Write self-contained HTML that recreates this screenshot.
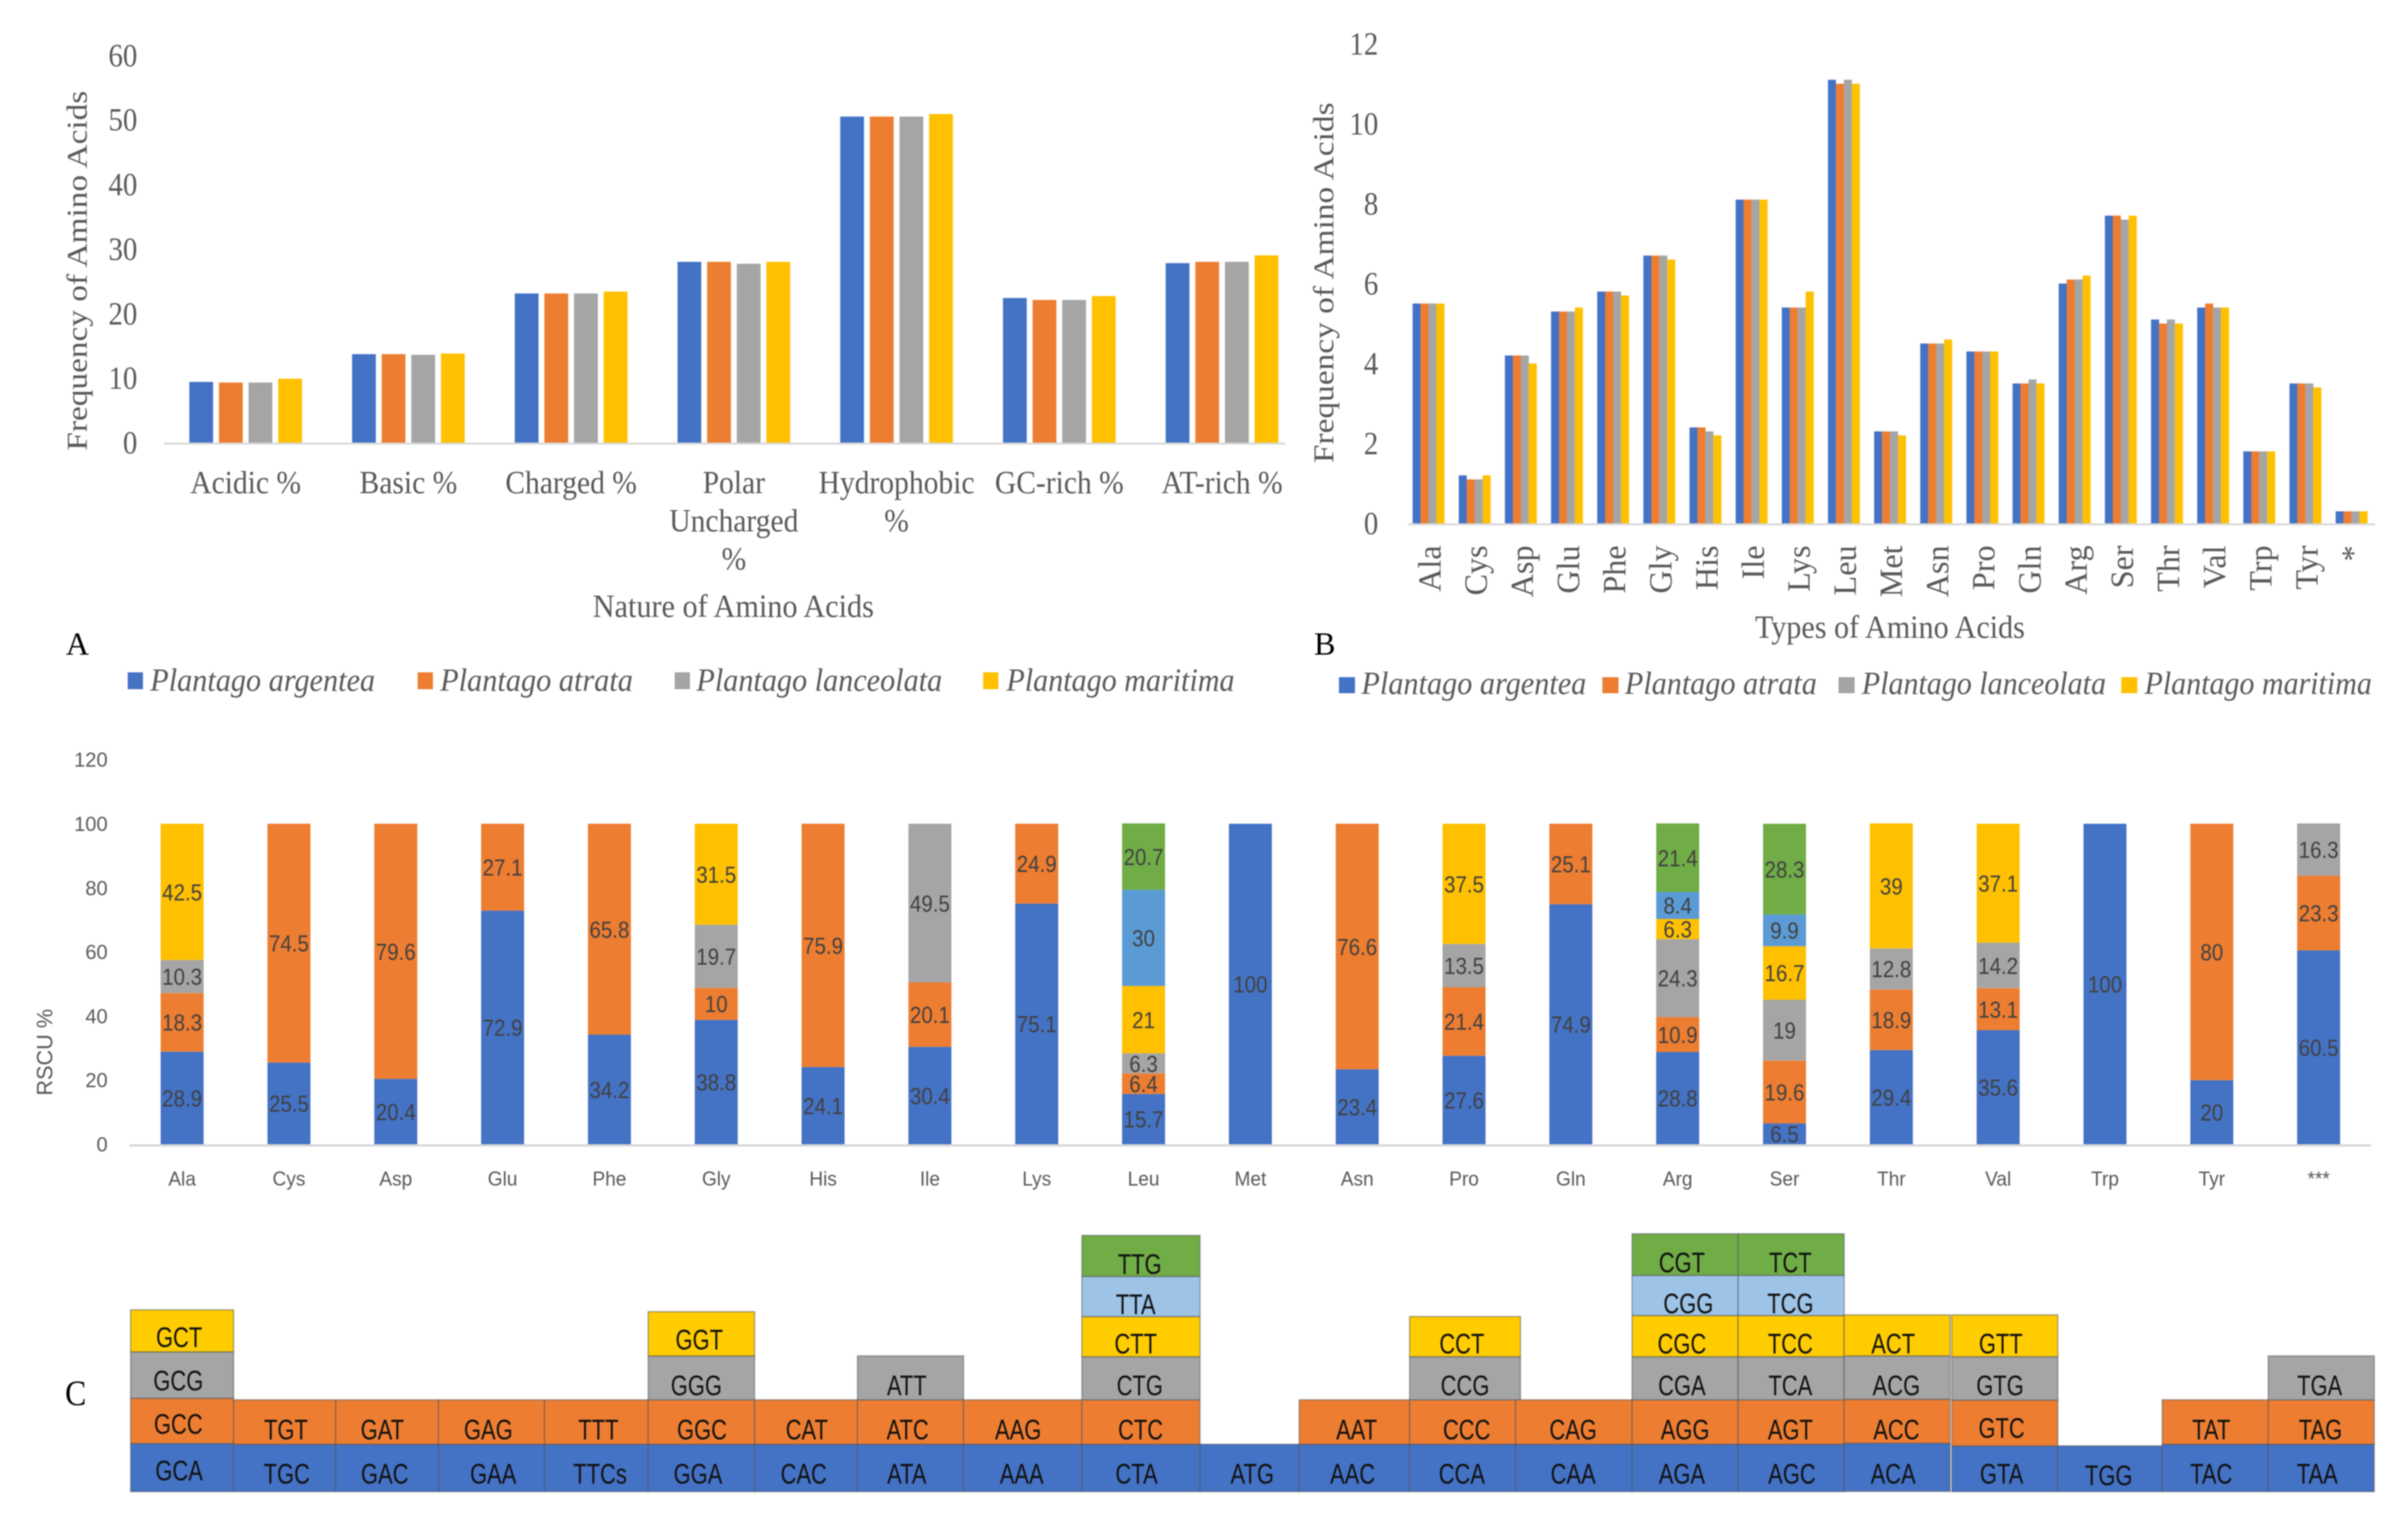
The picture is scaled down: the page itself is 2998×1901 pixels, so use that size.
<!DOCTYPE html>
<html lang="en">
<head>
<meta charset="utf-8">
<title>Plantago amino acid composition and RSCU</title>
<style>
html,body{margin:0;padding:0;background:#fff;width:2998px;height:1901px;overflow:hidden}
svg{display:block;filter:blur(.7px)}
.codon rect{stroke:#56585c;stroke-opacity:.55;stroke-width:1.5}
.codon text{font-family:"Liberation Sans",sans-serif;font-size:35px;fill:#111;text-anchor:middle}
.b{fill:#4472c4}.o{fill:#ed7d31}.g{fill:#a5a5a5}.y{fill:#ffcc00}.l{fill:#9dc3e6}.n{fill:#70ad47}
</style>
</head>
<body>
<svg id="figure" xmlns="http://www.w3.org/2000/svg" width="2998" height="1901" viewBox="0 0 2998 1901">
<rect x="0" y="0" width="2998" height="1901" fill="#fff"/>
<g id="chart-a"></g>
<g id="chart-b"></g>
<g id="chart-c"></g>

<text transform="translate(81,1749) scale(.9,1)" font-family="Liberation Serif" font-size="44" fill="#000">C</text>

<g class="codon">
<g>
<rect class="b" x="162.6" y="1797" width="128.2" height="60"/><text transform="translate(223,1843) scale(.78,1)">GCA</text>
<rect class="o" x="162.6" y="1740.7" width="128.2" height="56.3"/><text transform="translate(222,1785) scale(.78,1)">GCC</text>
<rect class="g" x="162.6" y="1683" width="128.2" height="57.7"/><text transform="translate(222,1731) scale(.78,1)">GCG</text>
<rect class="y" x="162.6" y="1630.7" width="128.2" height="52.3"/><text transform="translate(223,1677) scale(.78,1)">GCT</text>
</g>
<g>
<rect class="b" x="290.8" y="1798" width="127.2" height="59"/><text transform="translate(357,1847) scale(.78,1)">TGC</text>
<rect class="o" x="290.8" y="1742.7" width="127.2" height="55.3"/><text transform="translate(356,1792) scale(.78,1)">TGT</text>
</g>
<g>
<rect class="b" x="418" y="1798" width="128" height="59"/><text transform="translate(479,1847) scale(.78,1)">GAC</text>
<rect class="o" x="418" y="1742.7" width="128" height="55.3"/><text transform="translate(476,1792) scale(.78,1)">GAT</text>
</g>
<g>
<rect class="b" x="546" y="1798" width="132" height="59"/><text transform="translate(614,1847) scale(.78,1)">GAA</text>
<rect class="o" x="546" y="1742.7" width="132" height="55.3"/><text transform="translate(608,1792) scale(.78,1)">GAG</text>
</g>
<g>
<rect class="b" x="678" y="1798" width="129" height="59"/><text transform="translate(747,1847) scale(.78,1)">TTCs</text>
<rect class="o" x="678" y="1742.7" width="129" height="55.3"/><text transform="translate(745,1792) scale(.78,1)">TTT</text>
</g>
<g>
<rect class="b" x="807" y="1798" width="132.5" height="59"/><text transform="translate(869,1847) scale(.78,1)">GGA</text>
<rect class="o" x="807" y="1742.7" width="132.5" height="55.3"/><text transform="translate(874,1792) scale(.78,1)">GGC</text>
<rect class="g" x="807" y="1688" width="132.5" height="54.7"/><text transform="translate(867,1737) scale(.78,1)">GGG</text>
<rect class="y" x="807" y="1633" width="132.5" height="55"/><text transform="translate(870.6,1680) scale(.78,1)">GGT</text>
</g>
<g>
<rect class="b" x="939.5" y="1798" width="128.1" height="59"/><text transform="translate(1000.7,1847) scale(.78,1)">CAC</text>
<rect class="o" x="939.5" y="1742.7" width="128.1" height="55.3"/><text transform="translate(1004.5,1792) scale(.78,1)">CAT</text>
</g>
<g>
<rect class="b" x="1067.6" y="1798" width="132" height="59"/><text transform="translate(1129,1847) scale(.78,1)">ATA</text>
<rect class="o" x="1067.6" y="1742.7" width="132" height="55.3"/><text transform="translate(1130,1792) scale(.78,1)">ATC</text>
<rect class="g" x="1067.6" y="1688" width="132" height="54.7"/><text transform="translate(1129,1737) scale(.78,1)">ATT</text>
</g>
<g>
<rect class="b" x="1199.6" y="1798" width="147.4" height="59"/><text transform="translate(1272,1847) scale(.78,1)">AAA</text>
<rect class="o" x="1199.6" y="1742.7" width="147.4" height="55.3"/><text transform="translate(1267.6,1792) scale(.78,1)">AAG</text>
</g>
<g>
<rect class="b" x="1347" y="1798" width="147" height="59"/><text transform="translate(1415,1847) scale(.78,1)">CTA</text>
<rect class="o" x="1347" y="1742.7" width="147" height="55.3"/><text transform="translate(1420,1792) scale(.78,1)">CTC</text>
<rect class="g" x="1347" y="1689" width="147" height="53.7"/><text transform="translate(1419,1737) scale(.78,1)">CTG</text>
<rect class="y" x="1347" y="1639" width="147" height="50"/><text transform="translate(1414,1685) scale(.78,1)">CTT</text>
<rect class="l" x="1347" y="1589" width="147" height="50"/><text transform="translate(1414,1636) scale(.78,1)">TTA</text>
<rect class="n" x="1347" y="1538" width="147" height="51"/><text transform="translate(1419,1586) scale(.78,1)">TTG</text>
</g>
<g>
<rect class="b" x="1494" y="1798" width="123.5" height="59"/><text transform="translate(1559,1847) scale(.78,1)">ATG</text>
</g>
<g>
<rect class="b" x="1617.5" y="1798" width="137.5" height="59"/><text transform="translate(1684,1847) scale(.78,1)">AAC</text>
<rect class="o" x="1617.5" y="1742.7" width="137.5" height="55.3"/><text transform="translate(1689,1792) scale(.78,1)">AAT</text>
</g>
<g>
<rect class="b" x="1755" y="1798" width="132" height="59"/><text transform="translate(1820,1847) scale(.78,1)">CCA</text>
<rect class="o" x="1755" y="1742.7" width="132" height="55.3"/><text transform="translate(1826,1792) scale(.78,1)">CCC</text>
<rect class="g" x="1755" y="1689" width="138" height="53.7"/><text transform="translate(1824,1737) scale(.78,1)">CCG</text>
<rect class="y" x="1755" y="1639" width="138" height="50"/><text transform="translate(1820,1685) scale(.78,1)">CCT</text>
</g>
<g>
<rect class="b" x="1887" y="1798" width="145" height="59"/><text transform="translate(1958.6,1847) scale(.78,1)">CAA</text>
<rect class="o" x="1887" y="1742.7" width="145" height="55.3"/><text transform="translate(1958.6,1792) scale(.78,1)">CAG</text>
</g>
<g>
<rect class="b" x="2032" y="1798" width="132" height="59"/><text transform="translate(2094,1847) scale(.78,1)">AGA</text>
<rect class="o" x="2032" y="1742.7" width="132" height="55.3"/><text transform="translate(2098,1792) scale(.78,1)">AGG</text>
<rect class="g" x="2032" y="1689" width="132" height="53.7"/><text transform="translate(2094,1737) scale(.78,1)">CGA</text>
<rect class="y" x="2032" y="1637.7" width="132" height="51.3"/><text transform="translate(2094,1685) scale(.78,1)">CGC</text>
<rect class="l" x="2032" y="1587.7" width="132" height="50"/><text transform="translate(2102,1635) scale(.78,1)">CGG</text>
<rect class="n" x="2032" y="1536" width="132" height="51.7"/><text transform="translate(2094,1584) scale(.78,1)">CGT</text>
</g>
<g>
<rect class="b" x="2164" y="1798" width="132" height="59"/><text transform="translate(2231,1847) scale(.78,1)">AGC</text>
<rect class="o" x="2164" y="1742.7" width="132" height="55.3"/><text transform="translate(2229,1792) scale(.78,1)">AGT</text>
<rect class="g" x="2164" y="1689" width="132" height="53.7"/><text transform="translate(2229,1737) scale(.78,1)">TCA</text>
<rect class="y" x="2164" y="1637.7" width="132" height="51.3"/><text transform="translate(2229,1685) scale(.78,1)">TCC</text>
<rect class="l" x="2164" y="1587.7" width="132" height="50"/><text transform="translate(2229,1635) scale(.78,1)">TCG</text>
<rect class="n" x="2164" y="1536" width="132" height="51.7"/><text transform="translate(2229,1584) scale(.78,1)">TCT</text>
</g>
<g>
<rect class="b" x="2296" y="1796.7" width="132" height="60"/><text transform="translate(2357,1847) scale(.78,1)">ACA</text>
<rect class="o" x="2296" y="1742" width="132" height="54.7"/><text transform="translate(2361,1792) scale(.78,1)">ACC</text>
<rect class="g" x="2296" y="1688" width="132" height="54"/><text transform="translate(2361,1737) scale(.78,1)">ACG</text>
<rect class="y" x="2296" y="1637" width="132" height="51"/><text transform="translate(2357,1685) scale(.78,1)">ACT</text>
</g>
<g>
<rect class="b" x="2430" y="1800" width="132" height="57"/><text transform="translate(2492,1847) scale(.78,1)">GTA</text>
<rect class="o" x="2430" y="1743" width="132" height="57"/><text transform="translate(2492,1790) scale(.78,1)">GTC</text>
<rect class="g" x="2430" y="1689" width="132" height="54"/><text transform="translate(2490,1737) scale(.78,1)">GTG</text>
<rect class="y" x="2430" y="1637" width="132" height="52"/><text transform="translate(2491,1685) scale(.78,1)">GTT</text>
</g>
<g>
<rect class="b" x="2562" y="1800" width="130" height="57"/><text transform="translate(2625.4,1849) scale(.78,1)">TGG</text>
</g>
<g>
<rect class="b" x="2692" y="1798" width="132" height="59"/><text transform="translate(2753,1847) scale(.78,1)">TAC</text>
<rect class="o" x="2692" y="1742.7" width="132" height="55.3"/><text transform="translate(2753,1792) scale(.78,1)">TAT</text>
</g>
<g>
<rect class="b" x="2824" y="1798" width="132" height="59"/><text transform="translate(2885,1847) scale(.78,1)">TAA</text>
<rect class="o" x="2824" y="1742.7" width="132" height="55.3"/><text transform="translate(2889,1792) scale(.78,1)">TAG</text>
<rect class="g" x="2824" y="1688" width="132" height="54.7"/><text transform="translate(2888,1737) scale(.78,1)">TGA</text>
</g>
</g>
</svg>

<script>
// ---------- Chart A data ----------
const natureCategories = [["Acidic %"],["Basic %"],["Charged %"],["Polar","Uncharged","%"],["Hydrophobic","%"],["GC-rich %"],["AT-rich %"]];
const natureTicks = [0,10,20,30,40,50,60];
const natureArgentea = [9.4,13.7,23.1,28,50.5,22.4,27.8];
const natureAtrata = [9.3,13.7,23.1,28,50.5,22.1,28];
const natureLanceolata = [9.3,13.6,23.1,27.7,50.5,22.1,28];
const natureMaritima = [9.9,13.8,23.4,28,50.9,22.7,29];

// ---------- Chart B data ----------
const typeCategories = ["Ala","Cys","Asp","Glu","Phe","Gly","His","Ile","Lys","Leu","Met","Asn","Pro","Gln","Arg","Ser","Thr","Val","Trp","Tyr","*"];
const typeTicks = [0,2,4,6,8,10,12];
const typeArgentea = [5.5,1.2,4.2,5.3,5.8,6.7,2.4,8.1,5.4,11.1,2.3,4.5,4.3,3.5,6,7.7,5.1,5.4,1.8,3.5,0.3];
const typeAtrata = [5.5,1.1,4.2,5.3,5.8,6.7,2.4,8.1,5.4,11,2.3,4.5,4.3,3.5,6.1,7.7,5,5.5,1.8,3.5,0.3];
const typeLanceolata = [5.5,1.1,4.2,5.3,5.8,6.7,2.3,8.1,5.4,11.1,2.3,4.5,4.3,3.6,6.1,7.6,5.1,5.4,1.8,3.5,0.3];
const typeMaritima = [5.5,1.2,4,5.4,5.7,6.6,2.2,8.1,5.8,11,2.2,4.6,4.3,3.5,6.2,7.7,5,5.4,1.8,3.4,0.3];

// ---------- Chart C data ----------
const rscuCategories = ["Ala","Cys","Asp","Glu","Phe","Gly","His","Ile","Lys","Leu","Met","Asn","Pro","Gln","Arg","Ser","Thr","Val","Trp","Tyr","***"];
const rscuTicks = [0,20,40,60,80,100,120];
const rscuFirst = [28.9,25.5,20.4,72.9,34.2,38.8,24.1,30.4,75.1,15.7,100,23.4,27.6,74.9,28.8,6.5,29.4,35.6,100,20,60.5];
const rscuSecond = [18.3,74.5,79.6,27.1,65.8,10,75.9,20.1,24.9,6.4,null,76.6,21.4,25.1,10.9,19.6,18.9,13.1,null,80,23.3];
const rscuThird = [10.3,null,null,null,null,19.7,null,49.5,null,6.3,null,null,13.5,null,24.3,19,12.8,14.2,null,null,16.3];
const rscuFourth = [42.5,null,null,null,null,31.5,null,null,null,21,null,null,37.5,null,6.3,16.7,39,37.1,null,null,null];
const rscuFifth = [null,null,null,null,null,null,null,null,null,30,null,null,null,null,8.4,9.9,null,null,null,null,null];
const rscuSixth = [null,null,null,null,null,null,null,null,null,20.7,null,null,null,null,21.4,28.3,null,null,null,null,null];

const speciesNames = ["Plantago argentea","Plantago atrata","Plantago lanceolata","Plantago maritima"];

// ---------- shared styling ----------
const BLUE = "#4472c4", ORANGE = "#ed7d31", GREY = "#a5a5a5", YELLOW = "#ffc000", SKY = "#5b9bd5", GREEN = "#70ad47";
const speciesColors = [BLUE, ORANGE, GREY, YELLOW];
const stackColors = [BLUE, ORANGE, GREY, YELLOW, SKY, GREEN];
const SERIF = '"Liberation Serif", serif', SANS = '"Liberation Sans", sans-serif';
const NS = "http://www.w3.org/2000/svg";

function svgEl(tag, parent, attrs) {
  const el = document.createElementNS(NS, tag);
  for (const k in attrs) el.setAttribute(k, attrs[k]);
  parent.appendChild(el);
  return el;
}
function rectEl(parent, x, y, w, h, fill) {
  return svgEl("rect", parent, {x: x, y: y, width: w, height: h, fill: fill});
}
function textEl(parent, str, x, y, o) {
  const el = svgEl("text", parent, {
    transform: "translate(" + x + "," + y + ") rotate(" + (o.rot || 0) + ") scale(" + (o.sx || 1) + ",1)",
    "font-family": o.font, "font-size": o.size, fill: o.fill || "#595959",
    "text-anchor": o.anchor || "middle"
  });
  if (o.italic) el.setAttribute("font-style", "italic");
  if (o.len) {
    el.setAttribute("textLength", o.len);
    el.setAttribute("lengthAdjust", "spacingAndGlyphs");
  }
  el.textContent = str;
  return el;
}

// ---------- Chart A ----------
const gA = document.getElementById("chart-a");
const aZeroY = 551, aPxPerUnit = 8.037, aGroupX = 235.7, aGroupStep = 202.6, aBarW = 29.6, aBarStep = 36.9;
function aY(v) { return aZeroY - v * aPxPerUnit; }
function aX(group, series) { return aGroupX + group * aGroupStep + series * aBarStep; }
function aCenter(group) { return aX(group, 0) + (3 * aBarStep + aBarW) / 2; }
const aSeries = [natureArgentea, natureAtrata, natureLanceolata, natureMaritima];

const aAxis = rectEl(gA, 204, aZeroY, 1396, 2.5, "#d9d9d9");



natureTicks.forEach(function (t) {
  const el = textEl(gA, String(t), 171, aY(t) + 13.5, {font: SERIF, size: 40, anchor: "end", sx: 0.9});
  
  
});
aSeries.forEach(function (vals, s) {
  vals.forEach(function (v, i) {
    const bar = rectEl(gA, aX(i, s), aY(v), aBarW, v * aPxPerUnit, speciesColors[s]);
    
    
  });
});
natureCategories.forEach(function (lines, i) {
  lines.forEach(function (line, k) {
    const el = textEl(gA, line, aCenter(i), 614 + k * 47.5, {font: SERIF, size: 40, sx: 0.92});
    
    
  });
});
const aYTitle = textEl(gA, "Frequency of Amino Acids", 108, 337, {font: SERIF, size: 36, rot: -90, len: 448});


const aXTitle = textEl(gA, "Nature of Amino Acids", 913, 768, {font: SERIF, size: 40, len: 350});


const aPanel = textEl(gA, "A", 82, 815, {font: SERIF, size: 40, fill: "#000", anchor: "start"});



const aLegendLayout = [{sq: 159, tx: 187, w: 280}, {sq: 520, tx: 548, w: 240}, {sq: 840, tx: 867, w: 306}, {sq: 1224, tx: 1253, w: 284}];
speciesNames.forEach(function (name, i) {
  const sw = rectEl(gA, aLegendLayout[i].sq, 837, 19, 21, speciesColors[i]);
  
  
  const lab = textEl(gA, name, aLegendLayout[i].tx, 860, {font: SERIF, size: 40, italic: true, anchor: "start", len: aLegendLayout[i].w});
  
  
});

// ---------- Chart B ----------
const gB = document.getElementById("chart-b");
const bZeroY = 651.5, bPxPerUnit = 49.75, bGroupX = 1758.7, bGroupStep = 57.46, bBarW = 10, bBarStep = 9.9;
function bY(v) { return bZeroY - v * bPxPerUnit; }
function bX(group, series) { return bGroupX + group * bGroupStep + series * bBarStep; }
function bCenter(group) { return bX(group, 0) + (3 * bBarStep + bBarW) / 2; }
const bSeries = [typeArgentea, typeAtrata, typeLanceolata, typeMaritima];

const bAxis = rectEl(gB, 1753, bZeroY, 1204, 2.5, "#d9d9d9");



typeTicks.forEach(function (t) {
  const el = textEl(gB, String(t), 1716, bY(t) + 13.5, {font: SERIF, size: 40, anchor: "end", sx: 0.9});
  
  
});
bSeries.forEach(function (vals, s) {
  vals.forEach(function (v, i) {
    const bar = rectEl(gB, bX(i, s), bY(v), bBarW, v * bPxPerUnit, speciesColors[s]);
    
    
  });
});
typeCategories.forEach(function (name, i) {
  const el = textEl(gB, name, bCenter(i) + 15, 679, {font: SERIF, size: 40, rot: -90, anchor: "end"});
  
  
});
const bYTitle = textEl(gB, "Frequency of Amino Acids", 1660, 352, {font: SERIF, size: 36, rot: -90, len: 449});


const bXTitle = textEl(gB, "Types of Amino Acids", 2353, 794, {font: SERIF, size: 40, len: 336});


const bPanel = textEl(gB, "B", 1636, 815, {font: SERIF, size: 40, fill: "#000", anchor: "start"});



const bLegendLayout = [{sq: 1667, tx: 1695, w: 280}, {sq: 1995, tx: 2023, w: 239}, {sq: 2289, tx: 2318, w: 304}, {sq: 2641, tx: 2670, w: 283}];
speciesNames.forEach(function (name, i) {
  const sw = rectEl(gB, bLegendLayout[i].sq, 843, 20, 20, speciesColors[i]);
  
  
  const lab = textEl(gB, name, bLegendLayout[i].tx, 864, {font: SERIF, size: 40, italic: true, anchor: "start", len: bLegendLayout[i].w});
  
  
});

// ---------- Chart C ----------
const gC = document.getElementById("chart-c");
const cZeroY = 1424.5, cPxPerUnit = 3.99, cBarX = 200, cBarStep = 133, cBarW = 53.5;
function cY(v) { return cZeroY - v * cPxPerUnit; }
function cX(i) { return cBarX + i * cBarStep; }
const cSeries = [rscuFirst, rscuSecond, rscuThird, rscuFourth, rscuFifth, rscuSixth];

rscuTicks.forEach(function (t) {
  const el = textEl(gC, String(t), 134, cY(t) + 9, {font: SANS, size: 25, anchor: "end"});
  
  
});
rscuCategories.forEach(function (name, i) {
  let base = 0;
  cSeries.forEach(function (vals, s) {
    const v = vals[i];
    if (v === null) return;
    const bar = rectEl(gC, cX(i), cY(base + v), cBarW, v * cPxPerUnit, stackColors[s]);
    
    
    const val = textEl(gC, String(v), cX(i) + cBarW / 2, cY(base + v / 2) + 10.5, {font: SANS, size: 29, fill: "#404040", sx: 0.88});
    
    
    base += v;
  });
  const lab = textEl(gC, name, cX(i) + cBarW / 2, 1476, {font: SANS, size: 25, sx: 0.95});
  
  
});
const cAxis = rectEl(gC, 161, cZeroY, 2791, 3, "#d9d9d9");


const cYTitle = textEl(gC, "RSCU %", 65, 1310, {font: SANS, size: 28, rot: -90, len: 108});


</script>
</body>
</html>
